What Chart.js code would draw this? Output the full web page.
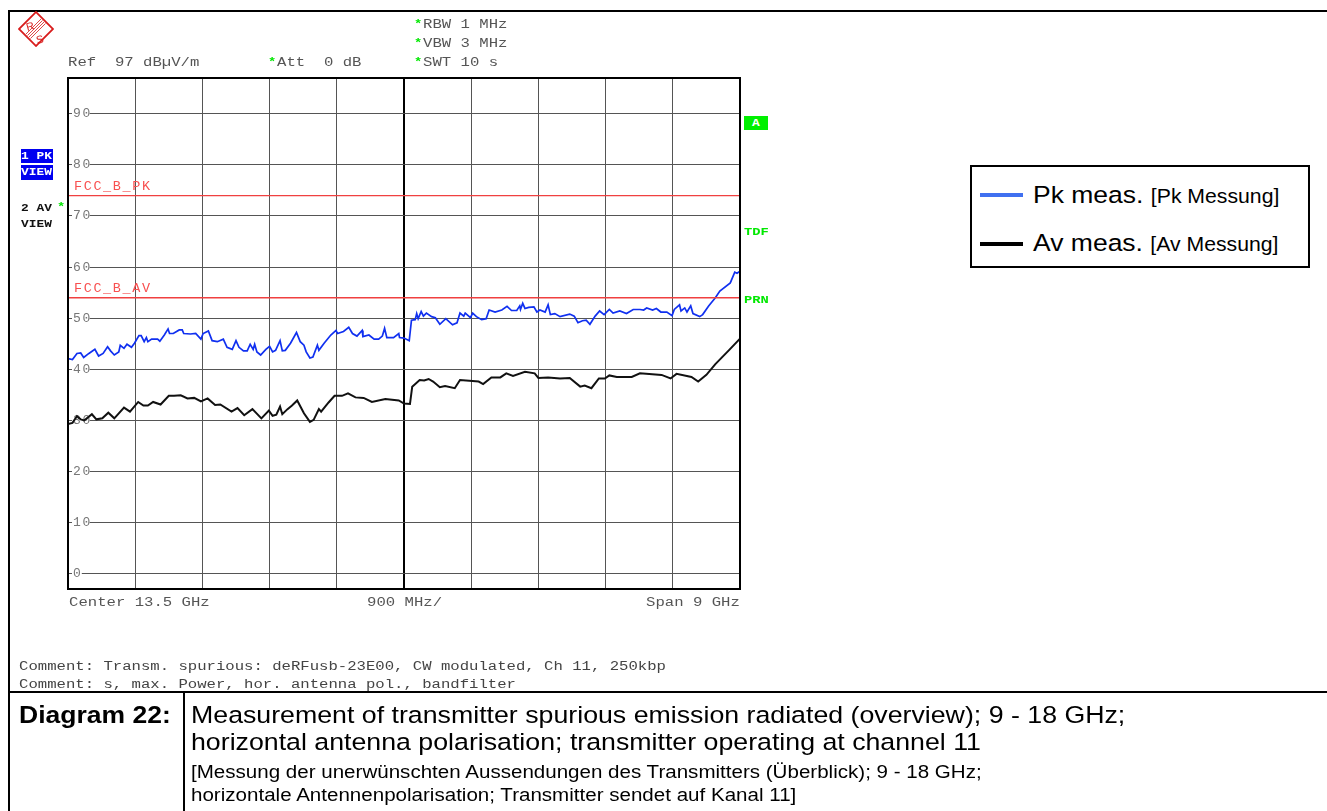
<!DOCTYPE html>
<html><head><meta charset="utf-8">
<script src="https://cdn.jsdelivr.net/npm/chart.js@4"></script>
<style>
html,body{margin:0;padding:0;background:#fff;width:1327px;height:811px;overflow:hidden}
#c{position:absolute;left:0;top:0}
.t{position:absolute;white-space:pre;line-height:1;transform-origin:0 50%}
.m{font-family:"Liberation Mono",monospace;font-size:12.5px;color:#555;transform:translateY(-50%) scaleX(1.25)}
.b{font-weight:bold;color:#111;font-size:11px;transform:translateY(-50%) scaleX(1.17)}
.g{color:#00e800;font-weight:bold}
.st{font-size:11px}
.s{font-family:"Liberation Sans",Arial,sans-serif;color:#000;transform:translateY(-50%) scaleX(1.1)}
.r{position:absolute;background:#000}
</style></head><body>
<canvas id="c" width="1327" height="811"></canvas>

<div class="r" style="left:8px;top:10px;width:1319px;height:2px"></div>
<div class="r" style="left:8px;top:10px;width:2px;height:801px"></div>
<div class="r" style="left:8px;top:691px;width:1319px;height:2px"></div>
<div class="r" style="left:183px;top:692px;width:2px;height:119px"></div>

<svg style="position:absolute;left:18px;top:11px" width="36" height="36" viewBox="0 0 36 36">
  <rect x="6" y="6" width="24" height="24" transform="rotate(45 18 18)" fill="#fff" stroke="#d81c1c" stroke-width="1.8"/>
  <g stroke="#d81c1c" stroke-width="0.8">
    <line x1="8" y1="23" x2="23" y2="8"/><line x1="9.5" y1="24.5" x2="24.5" y2="9.5"/><line x1="11" y1="26" x2="26" y2="11"/><line x1="12.5" y1="27.5" x2="27.5" y2="12.5"/>
  </g>
  <text x="8" y="19" font-family="Liberation Sans" font-size="11" fill="#d81c1c" transform="rotate(-15 12 15)">R</text>
  <text x="18" y="32" font-family="Liberation Sans" font-size="11" fill="#d81c1c" transform="rotate(-15 22 28)">S</text>
</svg>

<div class="t m g st" style="left:414px;top:24px">*</div><div class="t m" style="left:423px;top:25px">RBW 1 MHz</div>
<div class="t m g st" style="left:414px;top:43px">*</div><div class="t m" style="left:423px;top:44px">VBW 3 MHz</div>
<div class="t m g st" style="left:414px;top:62px">*</div><div class="t m" style="left:423px;top:63px">SWT 10 s</div>
<div class="t m" style="left:68px;top:63px">Ref  97 dBµV/m</div>
<div class="t m g st" style="left:268px;top:62px">*</div><div class="t m" style="left:277px;top:63px">Att  0 dB</div>

<div style="position:absolute;left:21px;top:149px;width:32px;height:14px;background:#0000f0"></div>
<div style="position:absolute;left:21px;top:165px;width:32px;height:15px;background:#0000f0"></div>
<div class="t m b" style="left:21px;top:156px;color:#fff">1 PK</div>
<div class="t m b" style="left:21px;top:172px;color:#fff">VIEW</div>
<div class="t m b" style="left:21px;top:208px">2 AV</div>
<div class="t m g st" style="left:57px;top:207px">*</div>
<div class="t m b" style="left:21px;top:224px">VIEW</div>

<div style="position:absolute;left:744px;top:116px;width:24px;height:14px;background:#00f000"></div>
<div class="t m b" style="left:752px;top:123px;color:#fff">A</div>
<div class="t m g" style="left:744px;top:232px;font-size:11px">TDF</div>
<div class="t m g" style="left:744px;top:300px;font-size:11px">PRN</div>

<div class="t m" style="left:69px;top:603px">Center 13.5 GHz</div>
<div class="t m" style="left:367px;top:603px">900 MHz/</div>
<div class="t m" style="left:646px;top:603px">Span 9 GHz</div>
<div class="t m" style="left:19px;top:667px;color:#444">Comment: Transm. spurious: deRFusb-23E00, CW modulated, Ch 11, 250kbp</div>
<div class="t m" style="left:19px;top:685px;color:#444">Comment: s, max. Power, hor. antenna pol., bandfilter</div>

<div style="position:absolute;left:970px;top:165px;width:336px;height:99px;border:2px solid #000;background:#fff"></div>
<div style="position:absolute;left:980px;top:193px;width:43px;height:4px;background:#4070f0"></div>
<div style="position:absolute;left:980px;top:242px;width:43px;height:4px;background:#000"></div>
<div class="t s" style="left:1033px;top:195px;font-size:24.1px">Pk meas. <span style="font-size:19.3px">[Pk Messung]</span></div>
<div class="t s" style="left:1033px;top:243px;font-size:24.1px">Av meas. <span style="font-size:19.3px">[Av Messung]</span></div>

<div class="t s" style="left:19px;top:715px;font-size:24.1px;font-weight:bold">Diagram 22:</div>
<div class="t s" style="left:191px;top:715px;font-size:24.3px">Measurement of transmitter spurious emission radiated (overview); 9 - 18 GHz;</div>
<div class="t s" style="left:191px;top:742px;font-size:24.3px">horizontal antenna polarisation; transmitter operating at channel 11</div>
<div class="t s" style="left:191px;top:772px;font-size:18.7px">[Messung der unerwünschten Aussendungen des Transmitters (Überblick); 9 - 18 GHz;</div>
<div class="t s" style="left:191px;top:795px;font-size:18.7px">horizontale Antennenpolarisation; Transmitter sendet auf Kanal 11]</div>

<script>
const freqTicks = [9, 9.9, 10.8, 11.7, 12.6, 13.5, 14.4, 15.3, 16.2, 17.1, 18];
const levelTicks = [0, 10, 20, 30, 40, 50, 60, 70, 80, 90];
const limitFreq = [9, 18];
const limitPk = [74, 74];
const limitAv = [54, 54];

const pkFreq = [9.00,9.06,9.12,9.17,9.21,9.28,9.36,9.41,9.47,9.53,9.57,9.62,9.68,9.70,9.75,9.79,9.85,9.89,9.95,9.98,10.02,10.05,10.07,10.12,10.20,10.23,10.29,10.34,10.36,10.41,10.49,10.53,10.55,10.64,10.71,10.78,10.81,10.88,10.93,11.00,11.08,11.13,11.20,11.25,11.29,11.35,11.40,11.44,11.48,11.50,11.53,11.58,11.65,11.70,11.74,11.78,11.84,11.87,11.91,11.98,12.06,12.11,12.16,12.19,12.24,12.28,12.34,12.36,12.43,12.52,12.59,12.61,12.69,12.76,12.81,12.87,12.94,12.95,13.03,13.10,13.16,13.21,13.24,13.27,13.36,13.43,13.44,13.50,13.57,13.60,13.65,13.67,13.69,13.73,13.76,13.80,13.87,13.92,13.98,14.06,14.15,14.21,14.25,14.30,14.32,14.39,14.42,14.47,14.54,14.60,14.64,14.72,14.81,14.88,14.94,15.01,15.05,15.06,15.09,15.12,15.17,15.24,15.28,15.32,15.39,15.43,15.46,15.52,15.59,15.72,15.78,15.83,15.89,15.94,15.99,16.06,16.12,16.18,16.25,16.30,16.39,16.48,16.57,16.66,16.71,16.75,16.83,16.88,16.94,17.02,17.09,17.12,17.19,17.21,17.26,17.29,17.34,17.37,17.46,17.50,17.58,17.67,17.73,17.87,17.93,17.96,18.00];
const pkLevel = [42.1,41.9,43.1,43.2,42.3,43.1,43.9,42.6,43.1,44.4,43.6,42.8,43.4,44.7,44.1,44.9,44.3,45.1,46.6,46.6,45.4,46.2,45.4,45.9,45.9,45.5,46.7,47.9,47.0,47.0,47.7,47.7,47.0,46.9,47.0,45.9,47.0,47.5,45.6,45.4,45.9,44.3,43.9,45.6,44.3,43.6,43.6,44.9,43.9,44.9,43.4,42.8,43.9,44.5,43.4,43.7,45.6,43.6,43.7,45.1,47.2,45.4,44.7,43.4,42.2,42.4,44.7,43.7,45.1,46.7,47.6,47.0,47.4,48.2,47.0,46.5,47.6,46.4,46.7,45.9,45.9,46.5,48.0,46.2,46.2,47.0,46.2,46.1,45.6,49.6,49.7,50.9,49.9,51.3,50.4,51.0,50.3,50.1,48.8,49.9,48.7,49.1,51.0,50.4,51.0,50.1,51.0,50.3,49.7,49.9,51.6,51.2,51.6,52.3,51.5,51.5,52.4,51.7,52.9,51.9,52.1,52.2,51.2,51.6,51.2,52.6,50.7,50.9,50.3,50.8,50.4,49.1,49.5,49.6,48.8,50.4,51.4,50.7,51.7,51.0,51.4,50.9,51.7,51.7,51.6,52.0,51.6,51.9,51.2,51.2,50.5,51.7,52.6,51.4,52.0,51.2,52.4,50.9,50.3,50.7,52.4,54.0,55.3,56.9,59.0,58.8,59.2];

const avFreq = [9.00,9.06,9.12,9.17,9.22,9.32,9.38,9.46,9.54,9.62,9.75,9.83,9.94,10.01,10.07,10.14,10.24,10.35,10.42,10.51,10.60,10.69,10.78,10.87,10.97,11.04,11.19,11.27,11.36,11.47,11.59,11.69,11.74,11.79,11.84,11.87,11.94,12.00,12.07,12.16,12.24,12.29,12.36,12.39,12.49,12.57,12.67,12.75,12.85,12.96,13.07,13.25,13.43,13.50,13.58,13.61,13.71,13.77,13.83,13.89,13.98,14.05,14.18,14.25,14.50,14.56,14.67,14.79,14.87,14.96,15.12,15.25,15.30,15.43,15.59,15.72,15.86,15.92,16.01,16.11,16.19,16.25,16.35,16.55,16.66,16.95,17.07,17.15,17.35,17.44,17.55,17.67,17.85,18.00];
const avLevel = [29.3,29.5,30.8,30.2,30.0,31.2,30.2,30.4,31.5,30.4,32.5,31.7,33.6,32.9,32.9,33.6,33.1,34.8,34.8,34.9,34.3,34.4,33.7,34.3,33.0,33.1,31.7,32.4,31.0,32.2,30.4,31.9,30.9,31.1,32.7,31.2,32.2,32.9,33.9,31.4,29.7,30.1,32.2,31.7,33.5,34.8,34.8,35.3,34.5,34.4,33.6,34.2,33.9,33.3,33.2,36.6,37.9,37.8,38.1,37.6,36.5,36.7,36.3,37.9,37.6,37.1,38.4,38.4,39.2,38.7,39.5,39.2,38.3,38.4,38.2,38.3,36.6,36.8,36.3,38.2,38.2,38.8,38.5,38.5,39.2,38.9,38.2,39.1,38.5,37.6,38.9,41.0,43.7,46.0];

const pairs = (xs, ys) => xs.map((x, i) => ({x, y: ys[i]}));

const frameAndLabels = {
  id: 'frameAndLabels',
  beforeDraw(chart) { chart.ctx.letterSpacing = '1.6px'; },
  afterDatasetsDraw(chart) {
    const {ctx, chartArea: a, scales: {y}} = chart;
    ctx.save();
    ctx.strokeStyle = '#000';
    ctx.lineWidth = 2;
    ctx.strokeRect(a.left, a.top, a.right - a.left, a.bottom - a.top);
    ctx.fillStyle = '#f85050';
    ctx.font = '13.5px "Liberation Mono"';
    ctx.textBaseline = 'middle';
    ctx.fillText('FCC_B_PK', a.left + 6, y.getPixelForValue(limitPk[0]) - 9);
    ctx.fillText('FCC_B_AV', a.left + 6, y.getPixelForValue(limitAv[0]) - 9);
    ctx.restore();
  }
};

new Chart(document.getElementById('c'), {
  type: 'line',
  data: {
    datasets: [
      {label: 'FCC_B_PK', data: pairs(limitFreq, limitPk), borderColor: '#f04040', borderWidth: 1.3, pointRadius: 0},
      {label: 'FCC_B_AV', data: pairs(limitFreq, limitAv), borderColor: '#f04040', borderWidth: 1.3, pointRadius: 0},
      {label: 'Av meas.', data: pairs(avFreq, avLevel), borderColor: '#111', borderWidth: 2, pointRadius: 0, tension: 0},
      {label: 'Pk meas.', data: pairs(pkFreq, pkLevel), borderColor: '#1030f0', borderWidth: 1.7, pointRadius: 0, tension: 0}
    ]
  },
  options: {
    responsive: false,
    animation: false,
    devicePixelRatio: 1,
    layout: {padding: {left: 68, right: 587, top: 78, bottom: 222}},
    plugins: {legend: {display: false}, tooltip: {enabled: false}},
    scales: {
      x: {
        type: 'linear', min: 9, max: 18,
        afterBuildTicks: s => { s.ticks = freqTicks.map(value => ({value})); },
        afterFit: s => { s.height = 0; },
        ticks: {display: false},
        border: {color: '#000', width: 2},
        grid: {
          drawTicks: false,
          color: c => c.tick && c.tick.value === 13.5 ? '#000' : '#555',
          lineWidth: c => c.tick && c.tick.value === 13.5 ? 2 : 1
        }
      },
      y: {
        type: 'linear', min: -3, max: 97,
        afterBuildTicks: s => { s.ticks = levelTicks.map(value => ({value})); },
        afterFit: s => { s.width = 0; },
        border: {color: '#000', width: 2},
        grid: {drawTicks: false, color: '#555', lineWidth: 1},
        ticks: {
          mirror: true, padding: 5, autoSkip: false, color: '#777',
          font: {family: '"Liberation Mono"', size: 13},
          showLabelBackdrop: true, backdropColor: '#fff', backdropPadding: {left: 1, right: 1, top: 0, bottom: 0},
          callback: v => String(v)
        }
      }
    }
  },
  plugins: [frameAndLabels]
});
</script>
</body></html>
